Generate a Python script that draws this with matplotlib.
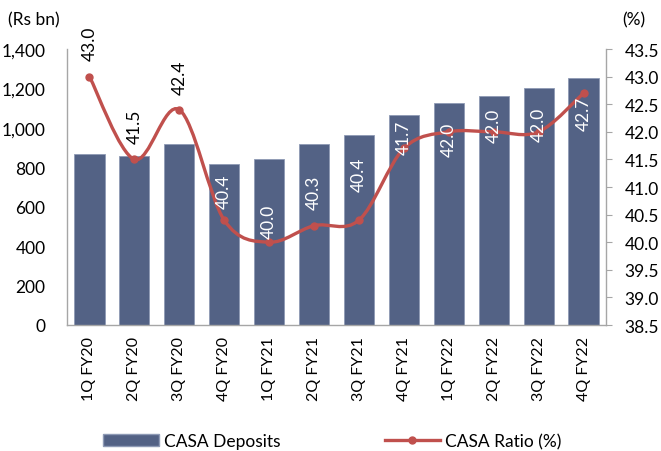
import numpy as np
import matplotlib
matplotlib.use("Agg")
import matplotlib.pyplot as plt
from matplotlib.path import Path
from matplotlib.patches import PathPatch
from matplotlib.lines import Line2D
from matplotlib.patches import Patch

categories = ["1Q FY20", "2Q FY20", "3Q FY20", "4Q FY20", "1Q FY21", "2Q FY21",
              "3Q FY21", "4Q FY21", "1Q FY22", "2Q FY22", "3Q FY22", "4Q FY22"]
casa_deposits = [867, 857, 918, 817, 842, 918, 964, 1065, 1126, 1160, 1202, 1254]
casa_ratio = [43.0, 41.5, 42.4, 40.4, 40.0, 40.3, 40.4, 41.7, 42.0, 42.0, 42.0, 42.7]
left_ticks = [0, 200, 400, 600, 800, 1000, 1200, 1400]
right_ticks = [38.5, 39.0, 39.5, 40.0, 40.5, 41.0, 41.5, 42.0, 42.5, 43.0, 43.5]
# label offsets (points, vertical) relative to each point
label_dy = [24, 24, 24, 21, 15, 24, 33, 8, -5, 5, 6, -14]
label_colors = ["black"] * 3 + ["white"] * 9

plt.rcParams['font.family'] = ['Lato', 'DejaVu Sans']

BAR = "#536285"
RED = "#C0504D"
GRAY = "#A6A6A6"

fig = plt.figure(figsize=(6.61, 4.52), dpi=100)
ax = fig.add_axes([67/661, 1-326/452, (606-67)/661, (326-50)/452])
ax2 = ax.twinx()

x = np.arange(len(categories))
ax.bar(x, casa_deposits, width=0.67, color=BAR, edgecolor="#8E9AB5", linewidth=0.6, zorder=2)
ax.set_xlim(-0.5, len(categories) - 0.5)
ax.set_ylim(0, 1400)
ax.set_yticks(left_ticks)
ax.set_yticklabels([f"{v:,}" for v in left_ticks], fontsize=12.5)
ax.set_xticks(x)
ax.set_xticklabels(categories, rotation=90, fontsize=11.5)
ax.tick_params(axis='y', length=0, pad=15.5)
ax.tick_params(axis='x', length=0, pad=8)
for s in ["top", "right"]:
    ax.spines[s].set_visible(False)
for s in ["left", "bottom"]:
    ax.spines[s].set_color(GRAY)
    ax.spines[s].set_linewidth(1.0)

ax2.set_ylim(38.5, 43.5)
ax2.set_yticks(right_ticks)
ax2.set_yticklabels([f"{v:.1f}" for v in right_ticks], fontsize=12.5)
ax2.tick_params(axis='y', length=4.5, color=GRAY, pad=9, direction='out')
for s in ["top", "left", "bottom"]:
    ax2.spines[s].set_visible(False)
ax2.spines["right"].set_color(GRAY)
ax2.spines["right"].set_linewidth(1.0)

# smoothed line (Excel-like smoothing computed in display space)
fig.canvas.draw()
pts = ax2.transData.transform(np.column_stack([x, casa_ratio]))
verts = [tuple(pts[0])]
codes = [Path.MOVETO]
n = len(pts)
for i in range(n - 1):
    p0 = pts[i - 1] if i > 0 else pts[i]
    p1 = pts[i]
    p2 = pts[i + 1]
    p3 = pts[i + 2] if i + 2 < n else pts[i + 1]
    c1 = p1 + (p2 - p0) / 6.0
    c2 = p2 - (p3 - p1) / 6.0
    verts += [tuple(c1), tuple(c2), tuple(p2)]
    codes += [Path.CURVE4] * 3
inv = ax2.transData.inverted()
verts_data = inv.transform(np.array(verts))
path = Path(verts_data, codes)
ax2.add_patch(PathPatch(path, facecolor="none", edgecolor=RED, linewidth=2.4, zorder=3))
ax2.plot(x, casa_ratio, linestyle="none", marker="o", markersize=5, color=RED, zorder=4)

for xi, yi, dy, c in zip(x, casa_ratio, label_dy, label_colors):
    ax2.annotate(f"{yi:.1f}", (xi, yi), xytext=(0, dy), textcoords="offset points",
                 rotation=90, ha="center", va="center", fontsize=12.5, color=c, zorder=5)

fig.text(8/661, 1-20/452, "(Rs bn)", fontsize=12.5, ha="left", va="center")
fig.text(622/661, 1-20/452, "(%)", fontsize=12.5, ha="left", va="center")

handles = [Patch(facecolor=BAR, edgecolor="#8E9AB5"),
           Line2D([0], [0], color=RED, linewidth=2.4, marker="o", markersize=5)]
fig.legend(handles, ["CASA Deposits", "CASA Ratio (%)"], loc="center",
           bbox_to_anchor=(0.503, 1-442/452), ncol=2, frameon=False, fontsize=12.5,
           handlelength=3.2, handleheight=0.7, columnspacing=6.0, handletextpad=0.3)

fig.savefig("out.png", dpi=100)
